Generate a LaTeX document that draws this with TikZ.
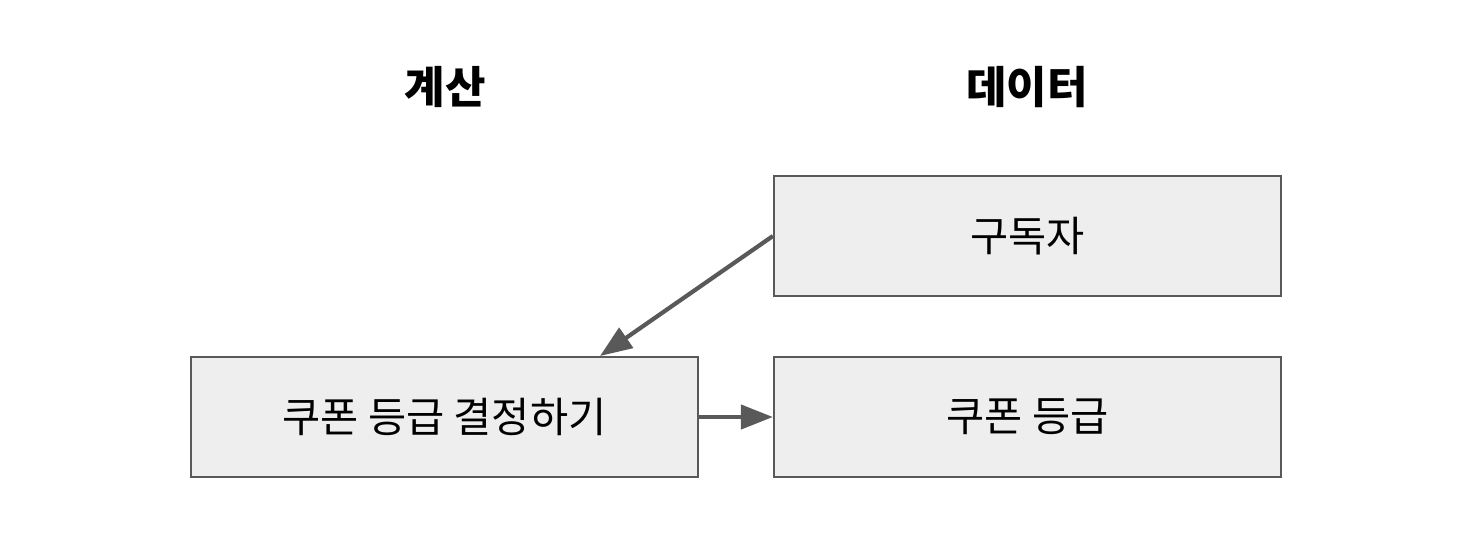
\documentclass[tikz,border=0pt]{standalone}
\usepackage{fontspec}
\newfontfamily\kr{Noto Sans CJK KR}
\usetikzlibrary{arrows.meta}
\definecolor{boxfill}{HTML}{EEEEEE}
\definecolor{edge}{HTML}{595959}
\begin{document}
\begin{tikzpicture}[x=1pt,y=-1pt,
  box/.style={draw=edge,fill=boxfill,line width=2.2pt,minimum width=507pt,minimum height=120pt,inner sep=0pt,font=\kr\fontsize{41.5}{46}\selectfont,text=black},
  head/.style={font=\kr\bfseries\fontsize{44}{50}\selectfont,text=black},
  conn/.style={draw=edge,line width=4.2pt,-{Triangle[length=32pt,width=24pt]}}]
\useasboundingbox (0,0) rectangle (1474,546);
\node[head] (h1) at (445,87) {계산};
\node[head] (h2) at (1027,87) {데이터};
\node[box] (sub) at (1027.5,236) {구독자};
\node[box] (calc) at (444.5,417) {쿠폰 등급 결정하기};
\node[box] (grade) at (1027.5,417) {쿠폰 등급};
\coordinate (t1) at (600,356);
\draw[conn] (sub.west) -- (t1);
\draw[conn] (calc.east) -- (grade.west);
\end{tikzpicture}
\end{document}
